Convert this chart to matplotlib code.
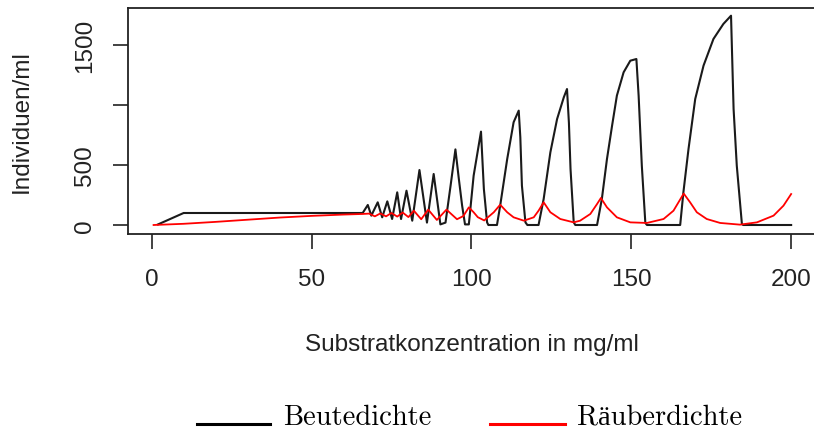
import matplotlib
matplotlib.use('Agg')
import matplotlib.pyplot as plt
from matplotlib.lines import Line2D

# Beute (black) and Raeuber (red) densities over substrate concentration
beute_x = [2, 10, 66, 67.6, 68.7, 70.7, 72.1, 73.7, 75.2, 76.8, 78, 79.7, 81.5, 83.75, 86.1,
           88.2, 90.3, 91.9, 93.5, 95, 96, 97.1, 98, 99.2, 100.7, 103, 103.9, 104.9, 105.3,
           108, 109, 111.2, 113.2, 114.8, 115.3, 115.8, 116.9, 117.5, 121, 122.6, 124.7,
           126.8, 128.9, 129.9, 130.5, 131, 132, 132.5, 139.3, 140.8, 142.4, 144, 145.5,
           147.6, 149.7, 151.6, 152.3, 153.3, 154.4, 154.9, 165.3, 166.3, 167.9, 170, 172.6,
           175.7, 178.8, 181.2, 182, 183, 184.6, 185, 200]
beute_y = [5, 100, 100, 167, 78, 189, 64, 197, 50, 272, 50, 286, 36, 458, 20,
           425, 5, 20, 330, 630, 400, 161, 5, 5, 411, 778, 300, 22, 0,
           0, 161, 550, 856, 953, 731, 328, 22, 0, 0, 217, 606,
           883, 1064, 1133, 850, 467, 22, 0, 0, 217, 550, 828, 1078,
           1272, 1369, 1383, 1078, 494, 17, 0, 0, 272, 633, 1050, 1328,
           1550, 1675, 1744, 967, 494, 8, 0, 0]

raeuber_x = [0.6, 10, 20, 30, 40, 50, 60, 66, 68, 69.8, 71.5, 73.3, 75, 76.8, 78.5, 80.3,
             82, 84.3, 86.5, 89.2, 92.2, 95.5, 97.5, 99.2, 100.7, 102, 104, 107, 109, 111.2,
             113.2, 116.4, 119.5, 121, 122.6, 124.7, 127.8, 132, 134, 137.2, 139.3, 140.5,
             142.4, 145.5, 149.7, 154.9, 160.1, 163.2, 166.4, 168.4, 170.5, 173.6, 177.8,
             184, 189.3, 194.5, 197.6, 200]
raeuber_y = [0, 10, 26, 44, 62, 76, 87, 92, 95, 72, 96, 72, 100, 70, 104, 66,
             119, 48, 128, 42, 128, 48, 75, 147, 106, 65, 38, 106, 169, 106,
             64, 36, 64, 119, 189, 106, 50, 22, 36, 92, 175, 225,
             147, 64, 22, 17, 50, 119, 262, 189, 106, 50, 17,
             3, 22, 78, 161, 258]

xticks = [0, 50, 100, 150, 200]
yticks = [0, 500, 1000, 1500]
ytick_labels = ['0', '500', '', '1500']

plt.rcParams['font.family'] = ['Liberation Sans', 'DejaVu Sans']
W, H = 814, 431
fig = plt.figure(figsize=(W / 100, H / 100), dpi=100)
# right edge of the box lies just outside the picture, as in the original
ax = fig.add_axes([128 / W, (H - 235) / H, (818 - 128) / W, (235 - 9) / H])

ax.plot(beute_x, beute_y, color='#1a1a1a', lw=1.5)
ax.plot(raeuber_x, raeuber_y, color='red', lw=1.3)

ax.set_xlim(-7.4, 208.4)
ax.set_ylim(-75, 1808)
ax.set_xticks(xticks)
ax.set_xticklabels([str(t) for t in xticks])
ax.set_yticks(yticks)
ax.set_yticklabels(ytick_labels, rotation=90, va='center')
ax.tick_params(direction='out', length=10.8, width=1.2, colors='#222222',
               labelsize=17.5, labelcolor='#222222')
ax.tick_params(axis='x', pad=14)
ax.tick_params(axis='y', pad=12)
for s in ax.spines.values():
    s.set_linewidth(1.3)
    s.set_color('#222222')

fig.text(472 / W, 1 - 345 / H, 'Substratkonzentration in mg/ml', ha='center', va='center',
         fontsize=17.5, color='#222222')
fig.text(22 / W, 1 - 122 / H, 'Individuen/ml', ha='center', va='center', rotation=90,
         fontsize=17.5, color='#222222')

# legend drawn at the bottom, latex style
base = 1 - 425 / H
fig.add_artist(Line2D([197 / W, 270 / W], [base, base], color='black', lw=2.2,
                      transform=fig.transFigure))
fig.add_artist(Line2D([490 / W, 565 / W], [base, base], color='red', lw=2.2,
                      transform=fig.transFigure))
legfont = dict(family=['cmr10', 'Liberation Serif'], fontsize=20.5, va='baseline', ha='left')
fig.text(283 / W, base, 'Beutedichte', **legfont)
fig.text(577 / W, base, 'Räuberdichte', **legfont)

fig.savefig('out.png', dpi=100)
